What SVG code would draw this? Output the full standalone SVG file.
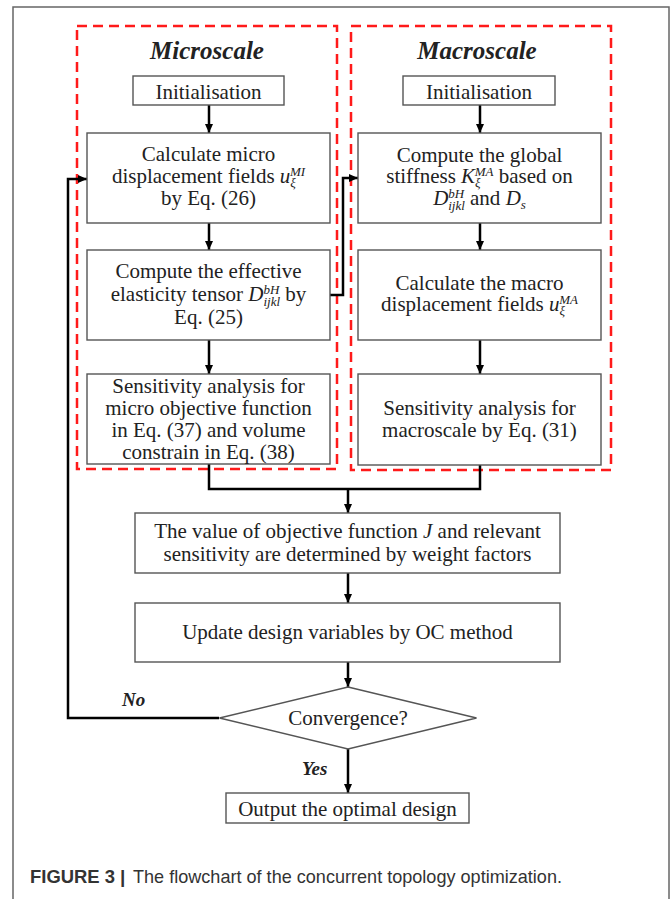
<svg xmlns="http://www.w3.org/2000/svg" width="672" height="899" viewBox="0 0 672 899">
<style>
.frame{fill:none;stroke:#666;stroke-width:1.5}
.red{fill:none;stroke:#ff1a1a;stroke-width:2.5;stroke-dasharray:10 6}
.box{fill:#fff;stroke:#555;stroke-width:1.4}
.t{font-family:"Liberation Serif","Times New Roman",serif;font-size:21px;fill:#222;text-anchor:middle}
.title{font-family:"Liberation Serif","Times New Roman",serif;font-size:25px;font-weight:bold;font-style:italic;fill:#222;text-anchor:middle}
.lbl{font-family:"Liberation Serif","Times New Roman",serif;font-size:19px;font-weight:bold;font-style:italic;fill:#222}
.m{font-style:italic}
.s{font-size:13px;font-style:italic}
.c{fill:none;stroke:#000;stroke-width:2.5}
.cap{font-family:"Liberation Sans",Arial,sans-serif;font-size:19px;fill:#333}
</style>
<defs>
<marker id="ah" viewBox="0 0 9 8" refX="9" refY="4" markerWidth="9" markerHeight="8" markerUnits="userSpaceOnUse" orient="auto">
<path d="M0,0 L9,4 L0,8 z" fill="#000"/>
</marker>
</defs>
<rect class="frame" x="13" y="7" width="656" height="900"/>
<g id="micro-region">
<rect class="red" x="77" y="26" width="260" height="443"/>
<text class="title" x="207" y="59">Microscale</text>
</g>
<g id="macro-region">
<rect class="red" x="351" y="26" width="260" height="444"/>
<text class="title" x="477" y="59">Macroscale</text>
</g>
<g id="connectors">
<path class="c" d="M209,105 V133" marker-end="url(#ah)"/>
<path class="c" d="M209,223 V250" marker-end="url(#ah)"/>
<path class="c" d="M209,340 V374" marker-end="url(#ah)"/>
<path class="c" d="M480,105 V133" marker-end="url(#ah)"/>
<path class="c" d="M480,223 V250" marker-end="url(#ah)"/>
<path class="c" d="M480,340 V374" marker-end="url(#ah)"/>
<path class="c" d="M330,295 H343 V178 H358" marker-end="url(#ah)"/>
<path class="c" d="M209,464 V489 H480 V465"/>
<path class="c" d="M348,489 V513" marker-end="url(#ah)"/>
<path class="c" d="M348,573 V603" marker-end="url(#ah)"/>
<path class="c" d="M348,662 V687" marker-end="url(#ah)"/>
<path class="c" d="M348,749 V793" marker-end="url(#ah)"/>
<path class="c" d="M219,718 H68 V179 H87" marker-end="url(#ah)"/>
<text class="lbl" x="122" y="706">No</text>
<text class="lbl" x="302" y="775">Yes</text>
</g>
<g id="micro-init">
<rect class="box" x="133" y="76" width="151" height="29"/>
<text class="t" x="208.5" y="99">Initialisation</text>
</g>
<g id="micro-disp">
<rect class="box" x="87" y="133" width="243" height="90"/>
<text class="t" x="208.5" y="161">Calculate micro</text>
<text class="t" x="208.5" y="183">displacement fields <tspan class="m">u</tspan><tspan class="s" dy="4">ξ</tspan><tspan class="s" dx="-6" dy="-11">MI</tspan></text>
<text class="t" x="208.5" y="205">by Eq. (26)</text>
</g>
<g id="micro-tensor">
<rect class="box" x="87" y="250" width="243" height="90"/>
<text class="t" x="208.5" y="278">Compute the effective</text>
<text class="t" x="208.5" y="301">elasticity tensor <tspan class="m">D</tspan><tspan class="s" dy="-7">bH</tspan><tspan class="s" dx="-16" dy="12">ijkl</tspan><tspan dy="-5"> by</tspan></text>
<text class="t" x="208.5" y="324">Eq. (25)</text>
</g>
<g id="micro-sens">
<rect class="box" x="87" y="374" width="243" height="90"/>
<text class="t" x="208.5" y="393">Sensitivity analysis for</text>
<text class="t" x="208.5" y="415">micro objective function</text>
<text class="t" x="208.5" y="437">in Eq. (37) and volume</text>
<text class="t" x="208.5" y="459">constrain in Eq. (38)</text>
</g>
<g id="macro-init">
<rect class="box" x="403" y="76" width="152" height="29"/>
<text class="t" x="479" y="99">Initialisation</text>
</g>
<g id="macro-stiff">
<rect class="box" x="358" y="133" width="243" height="90"/>
<text class="t" x="479.5" y="162">Compute the global</text>
<text class="t" x="479.5" y="183">stiffness <tspan class="m">K</tspan><tspan class="s" dy="4">ξ</tspan><tspan class="s" dx="-6" dy="-11">MA</tspan><tspan dy="7"> based on</tspan></text>
<text class="t" x="479.5" y="205"><tspan class="m">D</tspan><tspan class="s" dy="-7">bH</tspan><tspan class="s" dx="-16" dy="12">ijkl</tspan><tspan dy="-5"> and </tspan><tspan class="m">D</tspan><tspan class="s" dy="4">s</tspan></text>
</g>
<g id="macro-disp">
<rect class="box" x="358" y="250" width="243" height="90"/>
<text class="t" x="479.5" y="290">Calculate the macro</text>
<text class="t" x="479.5" y="311">displacement fields <tspan class="m">u</tspan><tspan class="s" dy="4">ξ</tspan><tspan class="s" dx="-6" dy="-11">MA</tspan></text>
</g>
<g id="macro-sens">
<rect class="box" x="358" y="374" width="243" height="91"/>
<text class="t" x="479.5" y="415">Sensitivity analysis for</text>
<text class="t" x="479.5" y="437">macroscale by Eq. (31)</text>
</g>
<g id="objective">
<rect class="box" x="135" y="513" width="425" height="60"/>
<text class="t" x="347.5" y="538">The value of objective function <tspan class="m">J</tspan> and relevant</text>
<text class="t" x="347.5" y="561">sensitivity are determined by weight factors</text>
</g>
<g id="update">
<rect class="box" x="135" y="603" width="425" height="59"/>
<text class="t" x="347.5" y="639">Update design variables by OC method</text>
</g>
<g id="convergence">
<polygon class="box" points="348,687 476.5,718 348,749 219.5,718"/>
<text class="t" x="348" y="725">Convergence?</text>
</g>
<g id="output">
<rect class="box" x="226" y="793" width="243" height="30"/>
<text class="t" x="347.5" y="816">Output the optimal design</text>
</g>
<g id="caption">
<text class="cap" x="30" y="883" font-weight="bold" textLength="85" lengthAdjust="spacingAndGlyphs">FIGURE 3</text>
<text class="cap" x="120" y="883" font-weight="bold">|</text>
<text class="cap" x="133" y="883" textLength="429" lengthAdjust="spacingAndGlyphs">The flowchart of the concurrent topology optimization.</text>
</g>
</svg>
